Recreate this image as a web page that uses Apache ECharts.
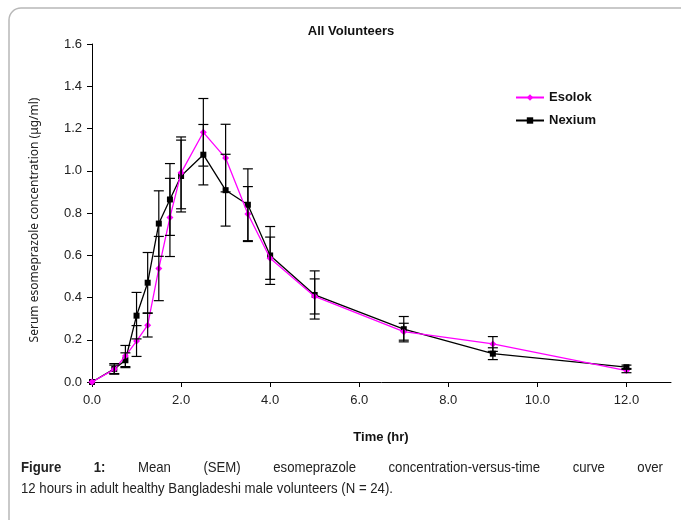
<!DOCTYPE html>
<html>
<head>
<meta charset="utf-8">
<script src="https://cdn.jsdelivr.net/npm/echarts@6/dist/echarts.min.js"></script>
<style>
html,body{margin:0;padding:0;background:#fff;}
#chart{width:681px;height:520px;}
</style>
</head>
<body>
<div id="chart"></div>
<script>
// ---- data ----
const times      = [0, 0.5, 0.75, 1.0, 1.25, 1.5, 1.75, 2.0, 2.5, 3.0, 3.5, 4.0, 5.0, 7.0, 9.0, 12.0];
const esolokMean = [0, 0.060, 0.123, 0.194, 0.269, 0.537, 0.779, 0.990, 1.182, 1.060, 0.795, 0.586, 0.405, 0.238, 0.180, 0.054];
const esolokSem  = [0, 0.020, 0.050, 0.073, 0.056, 0.152, 0.185, 0.170, 0.160, 0.160, 0.130, 0.100, 0.083, 0.040, 0.035, 0.010];
const nexiumMean = [0, 0.062, 0.103, 0.314, 0.470, 0.750, 0.864, 0.975, 1.076, 0.908, 0.839, 0.599, 0.412, 0.250, 0.134, 0.070];
const nexiumSem  = [0, 0.025, 0.035, 0.110, 0.143, 0.155, 0.170, 0.170, 0.143, 0.170, 0.170, 0.137, 0.114, 0.060, 0.028, 0.010];
const xTicks = [0, 2, 4, 6, 8, 10, 12];
const seriesNames = ['Esolok', 'Nexium'];
const titleText = 'All Volunteers';
const xName = 'Time (hr)';
const yName = 'Serum esomeprazole concentration (\u03bcg/ml)';
const captionLine1 = 'Mean (SEM) esomeprazole concentration-versus-time curve over';
const captionLine2 = '12 hours in adult healthy Bangladeshi male volunteers (N = 24).';

// ---- build ----
const pairs = (ts, ys) => ts.map((t, i) => [t, ys[i]]);
const bars = (ts, m, s) => ts.map((t, i) => [t, m[i] - s[i], m[i] + s[i], s[i]]).filter(d => d[3] > 0);

function errRender(params, api) {
  const x = api.value(0), lo = api.value(1), hi = api.value(2);
  const p1 = api.coord([x, lo]), p2 = api.coord([x, hi]);
  const w = 5;
  const st = { stroke: '#000', lineWidth: 1.2 };
  return {
    type: 'group',
    children: [
      { type: 'line', shape: { x1: p1[0], y1: p1[1], x2: p2[0], y2: p2[1] }, style: st },
      { type: 'line', shape: { x1: p1[0] - w, y1: p1[1], x2: p1[0] + w, y2: p1[1] }, style: st },
      { type: 'line', shape: { x1: p2[0] - w, y1: p2[1], x2: p2[0] + w, y2: p2[1] }, style: st }
    ]
  };
}

// caption layout: condensed face, first line justified like the source page
const FONT = '"Liberation Sans", Arial, sans-serif';
const cv = document.createElement('canvas').getContext('2d');
function tw(txt, bold, size) {
  cv.font = (bold ? 'bold ' : '') + size + 'px ' + FONT;
  return cv.measureText(txt).width;
}
const capSize = 15;
const capX = 21, capRight = 663;
const line2Target = 372;
const sx = line2Target / tw(captionLine2, false, capSize);
const words = [{ t: 'Figure', b: true }, { t: '1:', b: true }].concat(captionLine1.split(' ').map(w => ({ t: w, b: false })));
const wW = words.map(w => tw(w.t, w.b, capSize) * sx);
const gap = (capRight - capX - wW.reduce((a, b) => a + b, 0)) / (words.length - 1);
const capGraphics = [];
let cx = capX;
words.forEach((w, i) => {
  capGraphics.push({
    type: 'text', x: cx, y: 468, scaleX: sx,
    style: { text: w.t, font: (w.b ? 'bold ' : '') + capSize + 'px ' + FONT, fill: '#222', textVerticalAlign: 'middle' }
  });
  cx += wW[i] + gap;
});
capGraphics.push({
  type: 'text', x: capX, y: 489, scaleX: sx,
  style: { text: captionLine2, font: capSize + 'px ' + FONT, fill: '#222', textVerticalAlign: 'middle' }
});

const chart = echarts.init(document.getElementById('chart'));
chart.setOption({
  animation: false,
  backgroundColor: '#fff',
  grid: { left: 92, right: 10, top: 44, bottom: 138 },
  legend: {
    data: seriesNames,
    orient: 'vertical',
    left: 510, top: 86,
    itemWidth: 28, itemHeight: 8, itemGap: 10,
    textStyle: { fontFamily: FONT, fontWeight: 'bold', fontSize: 13, color: '#111' }
  },
  xAxis: {
    type: 'value', min: 0, max: 13, interval: 2,
    splitLine: { show: false },
    axisLine: { lineStyle: { color: '#000', width: 1 } },
    axisTick: { length: 5, lineStyle: { color: '#000' }, customValues: xTicks },
    axisLabel: { customValues: xTicks, formatter: v => v.toFixed(1), margin: 12, fontFamily: FONT, fontSize: 13, color: '#222' }
  },
  yAxis: {
    type: 'value', min: 0, max: 1.6, interval: 0.2,
    splitLine: { show: false },
    axisLine: { show: true, lineStyle: { color: '#000', width: 1 } },
    axisTick: { show: true, length: 5, lineStyle: { color: '#000' } },
    axisLabel: { formatter: v => v.toFixed(1), margin: 10, fontFamily: FONT, fontSize: 13, color: '#222' }
  },
  series: [
    {
      name: 'Esolok', type: 'line', data: pairs(times, esolokMean),
      symbol: 'diamond', symbolSize: 7, showAllSymbol: true,
      lineStyle: { color: '#ff00ff', width: 1.3 },
      itemStyle: { color: '#ff00ff' }, z: 3
    },
    {
      name: 'Nexium', type: 'line', data: pairs(times, nexiumMean),
      symbol: 'rect', symbolSize: 6, showAllSymbol: true,
      lineStyle: { color: '#000', width: 1.3 },
      itemStyle: { color: '#000' }, z: 2
    },
    { name: 'errN', type: 'custom', renderItem: errRender, data: bars(times, nexiumMean, nexiumSem), z: 4, silent: true },
    { name: 'errE', type: 'custom', renderItem: errRender, data: bars(times, esolokMean, esolokSem), z: 4, silent: true }
  ],
  graphic: [
    { type: 'rect', shape: { x: 9, y: 8, width: 720, height: 560, r: 12 }, style: { fill: 'none', stroke: '#b8b8b8', lineWidth: 1.5 }, z: -10 },
    { type: 'text', x: 351, y: 31, style: { text: titleText, font: 'bold 13px ' + FONT, fill: '#111', textAlign: 'center', textVerticalAlign: 'middle' } },
    { type: 'text', x: 381, y: 437, style: { text: xName, font: 'bold 13px ' + FONT, fill: '#111', textAlign: 'center', textVerticalAlign: 'middle' } },
    { type: 'text', x: 35, y: 220, rotation: Math.PI / 2, style: { text: yName, font: '12px "Noto Sans", sans-serif', fill: '#222', textAlign: 'center', textVerticalAlign: 'middle' } }
  ].concat(capGraphics)
});
</script>
</body>
</html>
